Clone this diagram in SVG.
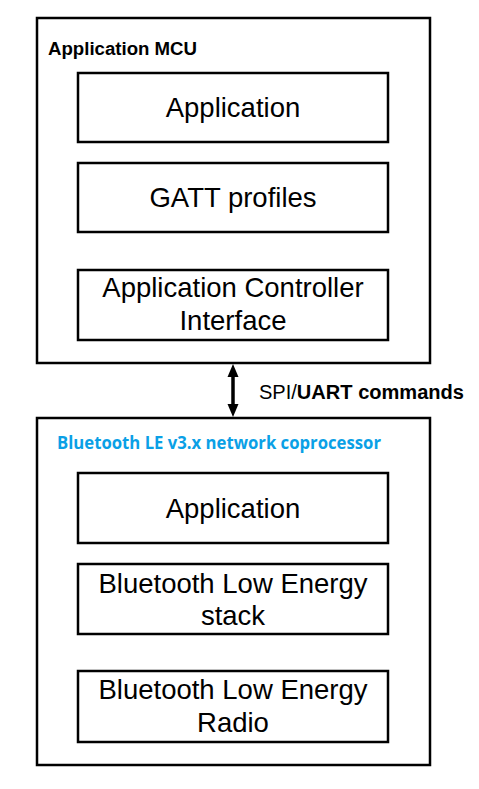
<svg xmlns="http://www.w3.org/2000/svg" width="479" height="789" viewBox="0 0 479 789">
<style>
.outer{fill:#fff;stroke:#000;stroke-width:2.5}
.inner{fill:#fff;stroke:#000;stroke-width:2.5}
.lbl{font-family:"Liberation Sans",Arial,sans-serif;font-size:27.5px;fill:#000;text-anchor:middle}
.ttl{font-family:"Liberation Sans",Arial,sans-serif;font-size:18px;font-weight:bold;fill:#000}
.blue{font-family:"Open Sans","Noto Sans",sans-serif;font-size:17.5px;font-weight:bold;fill:#0AA0E6}
.cmd{font-family:"Liberation Sans",Arial,sans-serif;font-size:20px;fill:#000}
</style>
<rect width="479" height="789" fill="#fff"/>
<g id="mcu">
<rect class="outer" x="37" y="18" width="393" height="345"/>
<text class="ttl" x="48" y="55" textLength="149" lengthAdjust="spacingAndGlyphs">Application MCU</text>
</g>
<g id="mcu-app">
<rect class="inner" x="78" y="73" width="310" height="69"/>
<text class="lbl" x="233" y="117">Application</text>
</g>
<g id="gatt">
<rect class="inner" x="78" y="163" width="310" height="69"/>
<text class="lbl" x="233" y="207">GATT profiles</text>
</g>
<g id="aci">
<rect class="inner" x="78" y="270" width="310" height="70"/>
<text class="lbl" x="233" y="297">Application Controller</text>
<text class="lbl" x="233" y="330">Interface</text>
</g>
<g id="ncp">
<rect class="outer" x="37" y="418" width="393" height="347"/>
<text class="blue" x="57" y="449" textLength="324" lengthAdjust="spacingAndGlyphs">Bluetooth LE v3.x network coprocessor</text>
</g>
<g id="ncp-app">
<rect class="inner" x="78" y="473" width="310" height="70"/>
<text class="lbl" x="233" y="518">Application</text>
</g>
<g id="stack">
<rect class="inner" x="78" y="564" width="310" height="70"/>
<text class="lbl" x="233" y="593">Bluetooth Low Energy</text>
<text class="lbl" x="233" y="625">stack</text>
</g>
<g id="radio">
<rect class="inner" x="78" y="671" width="310" height="71"/>
<text class="lbl" x="233" y="699">Bluetooth Low Energy</text>
<text class="lbl" x="233" y="732">Radio</text>
</g>
<g id="connectors">
<line x1="233" y1="372" x2="233" y2="408" stroke="#000" stroke-width="3.5"/>
<polygon points="233,364 227.5,377 238.5,377" fill="#000"/>
<polygon points="233,417 227.5,404 238.5,404" fill="#000"/>
<text class="cmd" x="259" y="399" textLength="205" lengthAdjust="spacingAndGlyphs">SPI/<tspan font-weight="bold">UART commands</tspan></text>
</g>
</svg>
